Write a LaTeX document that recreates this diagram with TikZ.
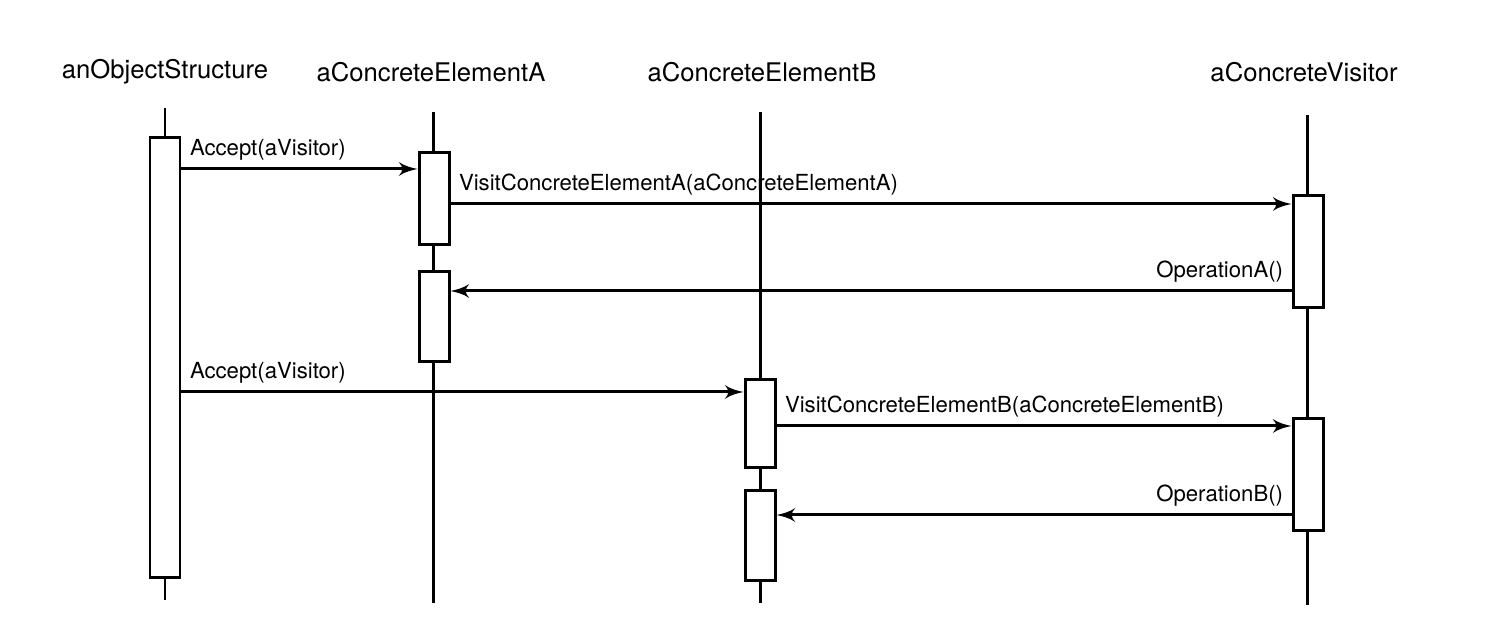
\documentclass[tikz,border=0pt]{standalone}
\usepackage{fontspec}
\setmainfont{TeX Gyre Heros}
\usepackage{tikz}
\usetikzlibrary{arrows}
\tikzset{
  head/.style={font=\fontsize{7.3}{8}\selectfont, inner sep=0pt},
  lbl/.style={font=\fontsize{6.3}{7}\selectfont, inner sep=2pt},
  act/.style={draw, fill=white, minimum width=3mm, inner sep=0pt},
  msg/.style={->, >=latex'}
}

\begin{document}
\begin{tikzpicture}[x=0.1mm, y=-0.1mm, line width=0.85pt]
\useasboundingbox (0,0) rectangle (1512,630);
% objects
\foreach \n/\x/\t in {hos/165/anObjectStructure, hea/431/aConcreteElementA, heb/762/aConcreteElementB, hcv/1304/aConcreteVisitor} {
 \node[head] (\n) at (\x,72) {\t};
}
% lifelines
\foreach \n/\x/\a/\b in {os/165/108/600, ea/433/112/603, eb/760/112/603, cv/1307/115/605} {
 \coordinate (\n-top) at (\x,\a);
 \coordinate (\n-bot) at (\x,\b);
 \draw (\n-top) -- (\n-bot);
}
% activations
\node[act, minimum height=44mm] (os) at (165,358) {};
\node[act, minimum height=9.2mm] (ea1) at (434,199) {};
\node[act, minimum height=9mm] (ea2) at (434,317) {};
\node[act, minimum height=8.8mm] (eb1) at (760,424) {};
\node[act, minimum height=9mm] (eb2) at (760,536) {};
\node[act, minimum height=11.2mm] (cv1) at (1308,252) {};
\node[act, minimum height=11.2mm] (cv2) at (1308,475) {};
% messages
\draw[msg] (os.east |- 0,169) -- node[lbl, pos=0, above right] {Accept(aVisitor)} (ea1.west |- 0,169);
\draw[msg] (ea1.east |- 0,204) -- node[lbl, pos=0, above right] {VisitConcreteElementA(aConcreteElementA)} (cv1.west |- 0,204);
\draw[msg] (cv1.west |- 0,291) -- node[lbl, pos=0, above left] {OperationA()} (ea2.east |- 0,291);
\draw[msg] (os.east |- 0,392) -- node[lbl, pos=0, above right] {Accept(aVisitor)} (eb1.west |- 0,392);
\draw[msg] (eb1.east |- 0,426) -- node[lbl, pos=0, above right] {VisitConcreteElementB(aConcreteElementB)} (cv2.west |- 0,426);
\draw[msg] (cv2.west |- 0,515) -- node[lbl, pos=0, above left] {OperationB()} (eb2.east |- 0,515);
\end{tikzpicture}
\end{document}
